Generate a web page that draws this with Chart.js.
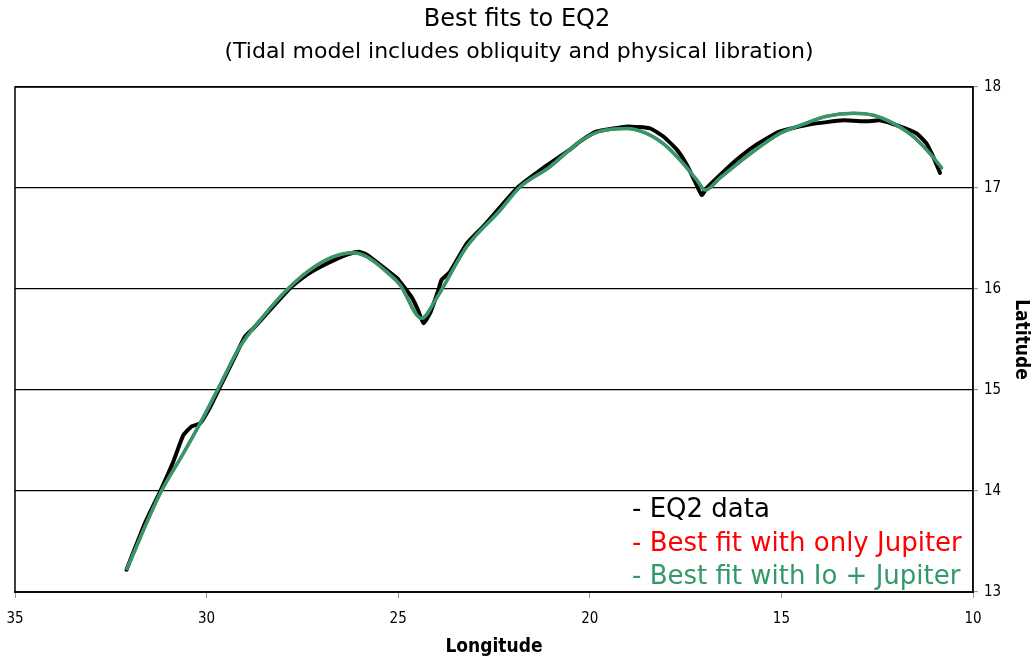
<!DOCTYPE html>
<html>
<head>
<meta charset="utf-8">
<script src="https://cdn.jsdelivr.net/npm/chart.js@4/dist/chart.umd.min.js"></script>
<style>
html,body{margin:0;padding:0;background:#fff;}
#wrap{width:1032px;height:658px;position:relative;}
</style>
</head>
<body>
<div id="wrap"><canvas id="c" width="1032" height="658"></canvas></div>
<script>
const titleText = "Best fits to EQ2";
const subtitleText = "(Tidal model includes obliquity and physical libration)";
const xTitle = "Longitude";
const yTitle = "Latitude";
const legendLines = ["- EQ2 data", "- Best fit with only Jupiter", "- Best fit with Io + Jupiter"];
const xTicks = [35, 30, 25, 20, 15, 10];
const yTicks = [13, 14, 15, 16, 17, 18];

// EQ2 data (black)
const dataLon = [32.09, 31.61, 31.22, 30.87, 30.61, 30.39, 30.17, 29.91, 29.65, 29.26, 29.00, 28.78, 28.35, 27.82, 27.39, 26.87, 26.34, 26.04, 25.82, 25.47, 25.04, 24.95, 24.65, 24.48, 24.34, 24.17, 23.95, 23.87, 23.65, 23.21, 22.78, 22.34, 21.87, 21.21, 20.52, 20.26, 19.82, 19.39, 19.00, 18.43, 18.08, 17.73, 17.47, 17.25, 17.08, 16.95, 16.60, 16.17, 15.65, 15.04, 14.25, 13.38, 12.77, 12.43, 11.91, 11.47, 11.21, 11.04, 10.86];
const dataLat = [13.22, 13.68, 13.99, 14.29, 14.55, 14.64, 14.67, 14.83, 15.03, 15.33, 15.53, 15.61, 15.79, 16.01, 16.14, 16.25, 16.34, 16.37, 16.34, 16.24, 16.11, 16.07, 15.92, 15.79, 15.66, 15.76, 15.99, 16.09, 16.17, 16.45, 16.62, 16.81, 17.01, 17.20, 17.38, 17.46, 17.56, 17.59, 17.61, 17.59, 17.51, 17.38, 17.23, 17.06, 16.93, 17.00, 17.13, 17.28, 17.43, 17.56, 17.63, 17.67, 17.66, 17.67, 17.61, 17.54, 17.44, 17.31, 17.15];

// Best fit with only Jupiter (red, hidden under green)
const fitJLon = [32.08, 31.22, 30.61, 30.17, 29.65, 29.13, 28.52, 27.91, 27.30, 26.69, 26.17, 25.82, 25.30, 24.95, 24.39, 24.00, 23.21, 22.34, 21.82, 21.04, 20.52, 20.26, 19.74, 19.04, 18.52, 17.99, 17.56, 17.21, 16.99, 16.60, 15.91, 15.04, 14.51, 13.82, 13.12, 12.60, 12.08, 11.56, 11.12, 10.82];
const fitJLat = [13.23, 13.97, 14.37, 14.67, 15.05, 15.43, 15.73, 15.99, 16.19, 16.32, 16.36, 16.32, 16.17, 16.04, 15.71, 15.91, 16.42, 16.78, 17.01, 17.21, 17.38, 17.46, 17.56, 17.59, 17.54, 17.41, 17.24, 17.08, 16.98, 17.10, 17.31, 17.54, 17.62, 17.71, 17.74, 17.72, 17.64, 17.51, 17.34, 17.20];

// Best fit with Io + Jupiter (green)
const fitIoLon = [32.08, 31.22, 30.61, 30.17, 29.65, 29.13, 28.52, 27.91, 27.30, 26.69, 26.17, 25.82, 25.30, 24.95, 24.39, 24.00, 23.21, 22.34, 21.82, 21.04, 20.52, 20.26, 19.74, 19.04, 18.52, 17.99, 17.56, 17.21, 16.99, 16.60, 15.91, 15.04, 14.51, 13.82, 13.12, 12.60, 12.08, 11.56, 11.12, 10.82];
const fitIoLat = [13.23, 13.97, 14.37, 14.67, 15.05, 15.43, 15.73, 15.99, 16.19, 16.32, 16.36, 16.32, 16.17, 16.04, 15.71, 15.91, 16.42, 16.78, 17.01, 17.21, 17.38, 17.46, 17.56, 17.59, 17.54, 17.41, 17.24, 17.08, 16.98, 17.10, 17.31, 17.54, 17.62, 17.71, 17.74, 17.72, 17.64, 17.51, 17.34, 17.20];

const pts = (xs, ys) => xs.map((x, i) => ({x: x, y: ys[i]}));

const FONT = "'DejaVu Sans', sans-serif";
const FONTC = "'DejaVu Sans Condensed', sans-serif";
const GREEN = '#33996a';

const decor = {
  id: 'decor',
  beforeDatasetsDraw(chart) {
    const {ctx, chartArea: a} = chart;
    ctx.save();
    ctx.strokeStyle = '#000';
    ctx.lineWidth = 1.5;
    ctx.strokeRect(a.left, a.top, a.right - a.left, a.bottom - a.top);
    ctx.restore();
  },
  afterDraw(chart) {
    const {ctx} = chart;
    ctx.save();
    ctx.textAlign = 'center';
    ctx.textBaseline = 'middle';
    ctx.fillStyle = '#000';
    ctx.font = "24px " + FONT;
    ctx.fillText(titleText, 517, 20);
    ctx.font = "22px " + FONT;
    ctx.fillText(subtitleText, 519, 52);
    ctx.textAlign = 'left';
    ctx.font = "26px " + FONT;
    const cols = ['#000000', '#ff0000', GREEN];
    const ys = [510, 544, 577];
    legendLines.forEach((t, i) => {
      ctx.fillStyle = cols[i];
      ctx.fillText(t, 632, ys[i]);
    });
    ctx.restore();
  }
};

new Chart(document.getElementById('c'), {
  type: 'scatter',
  data: {
    datasets: [
      {label: 'Best fit with Io + Jupiter', data: pts(fitIoLon, fitIoLat), showLine: true, borderColor: GREEN, borderWidth: 3.5, pointRadius: 0, cubicInterpolationMode: 'monotone', order: 0, borderJoinStyle: 'round', borderCapStyle: 'round'},
      {label: 'Best fit with only Jupiter', data: pts(fitJLon, fitJLat), showLine: true, borderColor: '#ff0000', borderWidth: 3, pointRadius: 0, cubicInterpolationMode: 'monotone', order: 1, borderJoinStyle: 'round'},
      {label: 'EQ2 data', data: pts(dataLon, dataLat), showLine: true, borderColor: '#000000', borderWidth: 4, pointRadius: 0, tension: 0.15, order: 2, borderJoinStyle: 'round', borderCapStyle: 'round'}
    ]
  },
  options: {
    responsive: false,
    animation: false,
    layout: {padding: {top: 87, left: 15, right: 0, bottom: 0}},
    plugins: {legend: {display: false}, tooltip: {enabled: false}, title: {display: false}},
    scales: {
      x: {
        type: 'linear', reverse: true, min: 10, max: 35,
        afterBuildTicks(s) { s.ticks = xTicks.map(v => ({value: v})); },
        afterFit(s) { s.height = 66; s.paddingLeft = 0; s.paddingRight = 0; },
        grid: {drawOnChartArea: false, drawTicks: true, tickLength: 6, color: '#999', tickColor: '#999'},
        border: {display: true, color: '#333', width: 2},
        ticks: {color: '#000', font: {family: FONTC, size: 15}, padding: 12, maxRotation: 0},
        title: {display: true, text: xTitle, color: '#000', font: {family: FONTC, size: 19, weight: 'bold'}, padding: {top: 0, bottom: 0}}
      },
      y: {
        type: 'linear', position: 'right', min: 13, max: 18,
        afterBuildTicks(s) { s.ticks = yTicks.map(v => ({value: v})); },
        afterFit(s) { s.width = 59; s.paddingTop = 0; s.paddingBottom = 0; },
        grid: {drawOnChartArea: true, drawTicks: true, tickLength: 5, color: '#000', tickColor: '#999', lineWidth: 1.2},
        border: {display: true, color: '#222', width: 1.5},
        ticks: {color: '#000', font: {family: FONTC, size: 15}, padding: 6},
        title: {display: true, text: yTitle, color: '#000', font: {family: FONTC, size: 19, weight: 'bold'}, padding: {top: 0, bottom: 2}}
      }
    }
  },
  plugins: [decor]
});
</script>
</body>
</html>
